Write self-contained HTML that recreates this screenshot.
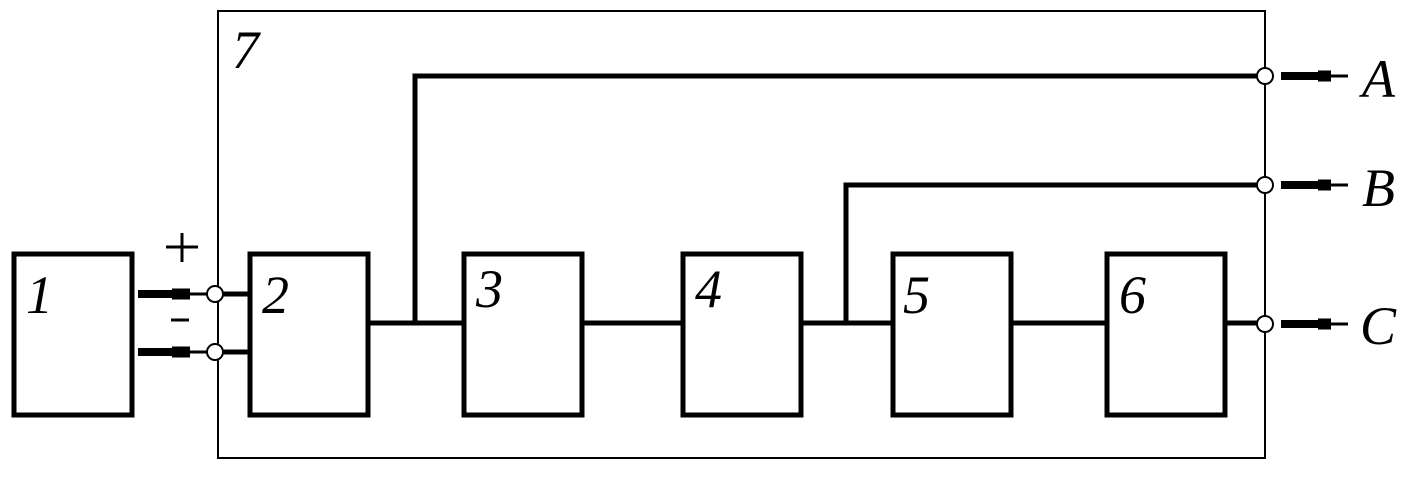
<!DOCTYPE html>
<html><head><style>body{margin:0;background:#fff}</style></head><body>
<svg width="1417" height="474" viewBox="0 0 1417 474" xmlns="http://www.w3.org/2000/svg">
<g fill="none" stroke="#000">
<rect x="218" y="11" width="1047" height="447" stroke-width="2"/>
<g stroke-width="5">
<rect x="14" y="254" width="118" height="161"/>
<rect x="250" y="254" width="118" height="161"/>
<rect x="464" y="254" width="118" height="161"/>
<rect x="683" y="254" width="118" height="161"/>
<rect x="893" y="254" width="118" height="161"/>
<rect x="1107" y="254" width="118" height="161"/>
<path d="M368 323H464M582 323H683M801 323H893M1011 323H1107M1225 323H1257"/>
<path d="M415 323V76H1257M846 323V185H1257"/>
<path d="M223 294H250M223 352H250"/>
<path d="M138 294H172M138 352H172" stroke-width="8"/>
<path d="M1281 76H1318M1281 185H1318M1281 324H1318" stroke-width="8"/>
</g>
<g stroke-width="3">
<path d="M190 294H207M190 352H207M1331 76H1348M1331 185H1348M1331 324H1348"/>
</g>
<g stroke-width="11">
<path d="M172 294H190M172 352H190M1318 76H1331M1318 185H1331M1318 324H1331"/>
</g>
<g fill="#fff" stroke-width="2">
<circle cx="215" cy="294" r="8"/><circle cx="215" cy="352" r="8"/>
<circle cx="1265" cy="76" r="8"/><circle cx="1265" cy="185" r="8"/><circle cx="1265" cy="324" r="8"/>
</g>
<path d="M166 247H198M182 233V262M171 320H189" stroke-width="3"/>
</g>
<g font-family="Liberation Serif, serif" font-style="italic" font-size="54" fill="#000">
<text x="26" y="313">1</text><text x="262" y="313">2</text><text x="476" y="307">3</text>
<text x="695" y="307">4</text><text x="903" y="313">5</text><text x="1119" y="313">6</text>
<text x="232" y="68">7</text>
<text x="1362" y="97">A</text><text x="1362" y="206">B</text><text x="1360" y="344">C</text>
</g>
</svg>
</body></html>
